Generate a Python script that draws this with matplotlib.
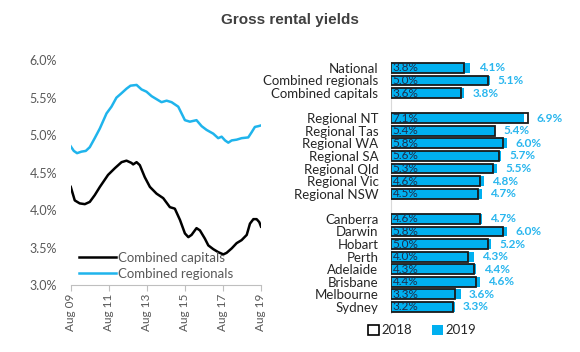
import matplotlib
matplotlib.use("Agg")
import matplotlib.pyplot as plt
from matplotlib.patches import Patch
from matplotlib.lines import Line2D

plt.rcParams['font.family'] = ['Lato', 'DejaVu Sans']

# --- line chart data (years after Aug 2009, yield %) ---
cap_t = [0.00, 0.21, 0.47, 0.74, 1.00, 1.26, 1.53, 1.96, 2.32, 2.67, 2.93, 3.19, 3.28, 3.46, 3.63,
         3.89, 4.16, 4.51, 4.86, 5.21, 5.47, 5.74, 6.00, 6.18, 6.35, 6.61, 6.79, 7.05, 7.23, 7.49,
         7.75, 8.02, 8.19, 8.46, 8.72, 8.98, 9.25, 9.42, 9.60, 9.77, 9.91, 10.0]
cap_y = [4.31, 4.13, 4.09, 4.08, 4.11, 4.20, 4.31, 4.47, 4.56, 4.64, 4.66, 4.63, 4.61, 4.64, 4.60,
         4.44, 4.31, 4.22, 4.16, 4.04, 4.02, 3.87, 3.69, 3.64, 3.67, 3.76, 3.73, 3.62, 3.53, 3.48,
         3.44, 3.41, 3.43, 3.49, 3.56, 3.60, 3.67, 3.82, 3.88, 3.88, 3.84, 3.78]
reg_t = [0.00, 0.16, 0.33, 0.56, 0.79, 1.00, 1.26, 1.53, 1.88, 2.14, 2.40, 2.67, 2.93, 3.14, 3.46,
         3.72, 3.98, 4.25, 4.51, 4.77, 5.04, 5.30, 5.65, 6.00, 6.26, 6.61, 6.88, 7.14, 7.49, 7.75,
         7.93, 8.11, 8.28, 8.46, 8.72, 8.98, 9.33, 9.51, 9.68, 9.86, 10.0]
reg_y = [4.85, 4.79, 4.76, 4.78, 4.79, 4.84, 4.96, 5.09, 5.29, 5.38, 5.50, 5.56, 5.62, 5.66, 5.67,
         5.61, 5.58, 5.52, 5.48, 5.44, 5.46, 5.44, 5.38, 5.20, 5.18, 5.20, 5.12, 5.07, 5.02, 4.96,
         4.98, 4.93, 4.90, 4.93, 4.94, 4.96, 4.97, 5.04, 5.11, 5.12, 5.13]
x_ticks = [0, 2, 4, 6, 8, 10]
x_labels = ['Aug 09', 'Aug 11', 'Aug 13', 'Aug 15', 'Aug 17', 'Aug 19']

# --- bar chart data ---
categories = ['National', 'Combined regionals', 'Combined capitals', '',
              'Regional NT', 'Regional Tas', 'Regional WA', 'Regional SA', 'Regional Qld',
              'Regional Vic', 'Regional NSW', '',
              'Canberra', 'Darwin', 'Hobart', 'Perth', 'Adelaide', 'Brisbane', 'Melbourne', 'Sydney']
y2018 = [3.8, 5.0, 3.6, None, 7.1, 5.4, 5.8, 5.6, 5.3, 4.6, 4.5, None,
         4.6, 5.8, 5.0, 4.0, 4.3, 4.4, 3.3, 3.2]
y2019 = [4.1, 5.1, 3.8, None, 6.9, 5.4, 6.0, 5.7, 5.5, 4.8, 4.7, None,
         4.7, 6.0, 5.2, 4.3, 4.4, 4.6, 3.6, 3.3]

cyan = '#00b0f0'
lbl_cyan = '#29b6ee'
gray = '#595959'

fig = plt.figure(figsize=(5.8, 3.52), dpi=100)
fig.text(0.5, 0.942, 'Gross rental yields', ha='center', va='center', fontsize=11,
         fontweight='bold', color='#404040', family=['Liberation Sans', 'DejaVu Sans'])

# left: line chart
ax = fig.add_axes([0.122, 0.190, 0.328, 0.639])
ax.plot(cap_t, cap_y, color='black', lw=1.8)
ax.plot(reg_t, reg_y, color='#1fb4ec', lw=1.8)
ax.set_xlim(0, 10)
ax.set_ylim(3.0, 6.0)
ax.set_yticks([3.0, 3.5, 4.0, 4.5, 5.0, 5.5, 6.0])
ax.set_yticklabels(['%.1f%%' % v for v in [3.0, 3.5, 4.0, 4.5, 5.0, 5.5, 6.0]])
ax.set_xticks(x_ticks)
ax.set_xticklabels(x_labels, rotation=90)
for s in ['top', 'right', 'left']:
    ax.spines[s].set_visible(False)
ax.spines['bottom'].set_color('#bfbfbf')
ax.tick_params(axis='y', length=0, labelsize=9, labelcolor=gray, pad=10)
ax.tick_params(axis='x', length=4, color='#bfbfbf', labelsize=8.5, labelcolor=gray, pad=2)
handles = [Line2D([], [], color='black', lw=1.8), Line2D([], [], color='#1fb4ec', lw=1.8)]
ax.legend(handles, ['Combined capitals', 'Combined regionals'], loc='lower left',
          bbox_to_anchor=(-0.02, -0.03), frameon=False, fontsize=9.5, labelcolor=gray,
          handlelength=2.8, handletextpad=0.2, labelspacing=0.3)

# right: bar chart
bx = fig.add_axes([0.674, 0.110, 0.30, 0.715])
pos = list(range(len(categories)))
h = 0.78
for i in pos:
    if y2018[i] is None:
        continue
    bx.barh(i, y2018[i], height=h, color='white', edgecolor='none', zorder=1)
    bx.barh(i, y2019[i], height=h, color=cyan, edgecolor='none', zorder=2)
    bx.barh(i, y2018[i], height=h, fill=False, edgecolor='#1a1a1a', lw=1.3, zorder=3)
    bx.text(0.08, i, '%.1f%%' % y2018[i], ha='left', va='center', fontsize=8.5,
            color='#1f2d4a', zorder=4)
    bx.annotate('%.1f%%' % y2019[i], (max(y2018[i], y2019[i]), i), xytext=(6, 0),
                textcoords='offset points', ha='left', va='center', fontsize=8.5,
                fontweight='bold', color=lbl_cyan)
bx.set_ylim(len(categories) - 0.5, -0.5)
bx.set_xlim(0, 9)
bx.set_yticks(pos)
bx.set_yticklabels(categories)
bx.set_xticks([])
for s in ['top', 'right', 'bottom']:
    bx.spines[s].set_visible(False)
bx.spines['left'].set_color('#d9d9d9')
bx.tick_params(axis='y', length=0, labelsize=9.5, labelcolor='#262626', pad=9)

fig.legend([Patch(facecolor='white', edgecolor='black', lw=1.2), Patch(facecolor=cyan)],
           ['2018', '2019'], loc='center', bbox_to_anchor=(0.728, 0.062), ncol=2,
           frameon=False, fontsize=9.5, handlelength=0.8, handleheight=0.8,
           handletextpad=0.2, columnspacing=1.5, labelcolor='#262626')

fig.savefig('out.png', dpi=100)
